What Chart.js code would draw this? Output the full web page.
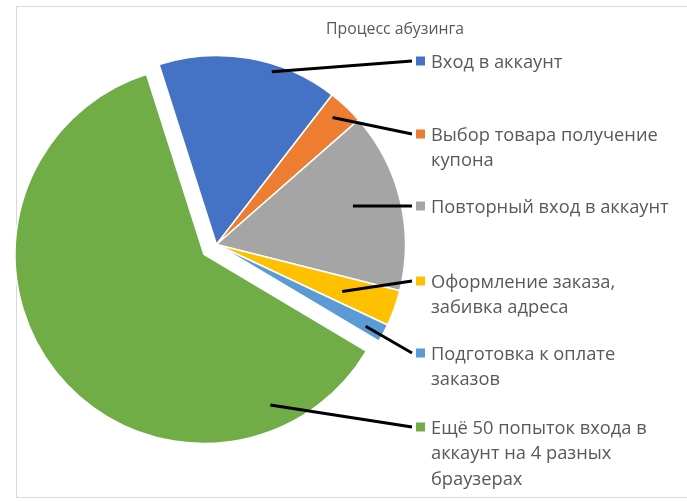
<!DOCTYPE html>
<html>
<head>
<meta charset="utf-8">
<script src="https://cdn.jsdelivr.net/npm/chart.js@4.4.1/dist/chart.umd.min.js"></script>
<style>
html, body { margin: 0; padding: 0; background: #fff; }
#grafica { display: block; }
</style>
</head>
<body>
<canvas id="grafica" width="687" height="501"></canvas>
<script>
var titulo = 'Процесс абузинга';
var categorias = [
    ['Вход в аккаунт'],
    ['Выбор товара получение', 'купона'],
    ['Повторный вход в аккаунт'],
    ['Оформление заказа,', 'забивка адреса'],
    ['Подготовка к оплате', 'заказов'],
    ['Ещё 50 попыток входа в', 'аккаунт на 4 разных', 'браузерах']
];
var valores = [10, 2, 10, 2, 1, 40];
var colores = ['#4472C4', '#ED7D31', '#A5A5A5', '#FFC000', '#5B9BD5', '#70AD47'];

// layout of the exploded slice and the callout labels (style only)
var explode = [0, 0, 0, 0, 0, 16];
var anchorT = [0.64, 0.43, 0.46, 0.57, 0.63, 0.16];
var anchorR = [0.96, 0.91, 0.75, 0.71, 0.90, 0.87];
var labelY = [61, 134, 206, 281, 353, 427];

var explodePlugin = {
    id: 'explode',
    afterDatasetUpdate: function(chart, args)
    {
        var arcs = chart.getDatasetMeta(args.index).data;
        for (var i = 0; i < arcs.length; i++)
        {
            if (!explode[i]) continue;
            var mid = (arcs[i].startAngle + arcs[i].endAngle) / 2;
            arcs[i].x += Math.cos(mid) * explode[i];
            arcs[i].y += Math.sin(mid) * explode[i];
        }
    }
};

var labelsPlugin = {
    id: 'callouts',
    beforeDraw: function(chart)
    {
        var ctx = chart.ctx;
        ctx.save();
        ctx.fillStyle = '#fff';
        ctx.fillRect(0, 0, chart.width, chart.height);
        ctx.strokeStyle = '#d9d9d9';
        ctx.lineWidth = 1;
        ctx.strokeRect(16.5, 6.5, chart.width, 491);
        ctx.restore();
    },
    afterDatasetsDraw: function(chart)
    {
        var ctx = chart.ctx;
        var arcs = chart.getDatasetMeta(0).data;
        ctx.save();
        ctx.fillStyle = '#595959';
        ctx.font = '15.8px "Open Sans"';
        ctx.textAlign = 'center';
        ctx.textBaseline = 'alphabetic';
        ctx.fillText(titulo, 395, 34);

        ctx.textAlign = 'left';
        ctx.font = '18.3px "Open Sans"';
        for (var i = 0; i < arcs.length; i++)
        {
            var a = arcs[i];
            var ang = a.startAngle + (a.endAngle - a.startAngle) * anchorT[i];
            var r = a.outerRadius * anchorR[i];
            ctx.strokeStyle = '#000';
            ctx.lineWidth = 3;
            ctx.beginPath();
            ctx.moveTo(a.x + Math.cos(ang) * r, a.y + Math.sin(ang) * r);
            ctx.lineTo(412, labelY[i]);
            ctx.stroke();

            ctx.fillStyle = colores[i];
            ctx.fillRect(416, labelY[i] - 4.5, 9, 9);
            ctx.fillStyle = '#595959';
            for (var j = 0; j < categorias[i].length; j++)
            {
                ctx.fillText(categorias[i][j], 431, labelY[i] + 6.5 + j * 25.5);
            }
        }
        ctx.restore();
    }
};

var ctx = document.getElementById('grafica');
var pastel = new Chart(ctx, {
    type: 'pie',
    data: {
        labels: categorias,
        datasets: [{
            data: valores,
            backgroundColor: colores,
            borderColor: '#fff',
            borderWidth: 1.5
        }]
    },
    options: {
        responsive: false,
        devicePixelRatio: 1,
        animation: false,
        rotation: -17.7,
        radius: 189,
        layout: { padding: { left: 0, top: 0, right: 254, bottom: 12 } },
        plugins: {
            legend: { display: false },
            tooltip: { enabled: false },
            title: { display: false }
        }
    },
    plugins: [explodePlugin, labelsPlugin]
});
</script>
</body>
</html>
